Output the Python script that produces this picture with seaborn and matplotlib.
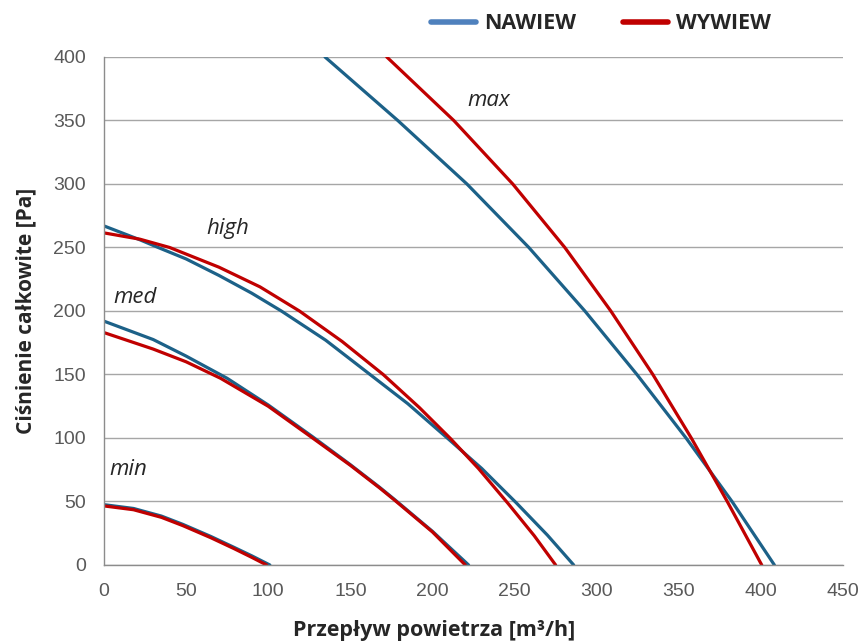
import numpy as np
import pandas as pd
import matplotlib
matplotlib.use("Agg")
import matplotlib.pyplot as plt
from matplotlib.lines import Line2D
import seaborn as sns

# curves: flow [m3/h] -> total pressure [Pa]
naw_min_x = [0, 18, 35, 48, 65, 79, 90, 101]
naw_min_y = [47.5, 44.5, 38.5, 32, 22.5, 14, 7.2, 0]
wyw_min_x = [0, 18, 35, 48, 65, 79, 90, 99]
wyw_min_y = [46.5, 43.5, 37.5, 31, 21.5, 13, 6, 0]

naw_med_x = [0, 30, 50, 75, 100, 127, 150, 168, 177, 200, 222]
naw_med_y = [192, 177.5, 164.5, 147, 126, 101, 79, 61, 51.5, 26.5, 0]
wyw_med_x = [0, 30, 50, 71, 100, 127, 150, 168, 177, 200, 220]
wyw_med_y = [183, 170, 160, 147, 125, 100, 78.5, 60.5, 51, 26, 0]

naw_high_x = [0, 22, 33, 50, 70, 90, 108, 135, 160, 185, 209, 230, 251, 270, 286]
naw_high_y = [267, 256, 250, 241, 228, 214, 200, 177, 152, 127, 100, 76, 49, 23.5, 0]
wyw_high_x = [0, 22, 40, 70, 95, 119, 145, 170, 192, 211, 228, 246, 262, 275]
wyw_high_y = [261.5, 256.5, 250, 234.5, 219, 200, 176, 150, 124, 99.5, 76, 48.5, 23, 0]

naw_max_x = [134.6, 178.9, 221.0, 258.7, 292.8, 324.5, 354.4, 382.4, 408.2]
naw_max_y = [400, 350, 300, 250, 200, 150, 100, 50, 0]
wyw_max_x = [172.2, 213.0, 248.9, 280.6, 308.6, 334.2, 357.6, 379.5, 400.5]
wyw_max_y = [400, 350, 300, 250, 200, 150, 100, 50, 0]

series = [
    ("NAWIEW", "min", naw_min_x, naw_min_y),
    ("WYWIEW", "min", wyw_min_x, wyw_min_y),
    ("NAWIEW", "med", naw_med_x, naw_med_y),
    ("WYWIEW", "med", wyw_med_x, wyw_med_y),
    ("NAWIEW", "high", naw_high_x, naw_high_y),
    ("WYWIEW", "high", wyw_high_x, wyw_high_y),
    ("NAWIEW", "max", naw_max_x, naw_max_y),
    ("WYWIEW", "max", wyw_max_x, wyw_max_y),
]
rows = []
for side, speed, xs, ys in series:
    for i, (a, b) in enumerate(zip(xs, ys)):
        rows.append({"side": side, "speed": speed, "curve": side + speed,
                     "order": i, "flow": a, "pressure": b})
df = pd.DataFrame(rows)

labels = ["max", "high", "med", "min"]
label_x = [221, 62.5, 5.5, 3.5]
label_y = [366, 265, 211, 75]

sns.set_style("white")
plt.rcParams["font.family"] = ["Open Sans", "DejaVu Sans"]

fig = plt.figure(figsize=(8.62, 6.44), dpi=100)
ax = fig.add_axes([0.1206, 0.1227, 0.8574, 0.7888])

line_colors = {"NAWIEW": "#1c6188", "WYWIEW": "#c00000"}
sns.lineplot(data=df, x="flow", y="pressure", hue="side", units="curve",
             estimator=None, sort=False, palette=line_colors, linewidth=2.3,
             legend=False, ax=ax)

ax.set_xlim(0, 450)
ax.set_ylim(0, 400)
ax.set_xticks(np.arange(0, 451, 50))
ax.set_yticks(np.arange(0, 401, 50))
ax.grid(axis="y", color="#a6a6a6", linewidth=1)
ax.grid(axis="x", visible=False)
for s in ["top", "right"]:
    ax.spines[s].set_visible(False)
for s in ["left", "bottom"]:
    ax.spines[s].set_color("#8c8c8c")
    ax.spines[s].set_linewidth(1)
ax.tick_params(length=0, pad=13, labelsize=14, colors="#595959")
for t in ax.get_xticklabels() + ax.get_yticklabels():
    t.set_family(["Liberation Sans", "DejaVu Sans"])

ax.set_xlabel("Przepływ powietrza [m³/h]", fontsize=15.5, fontweight="bold",
              color="#262626")
ax.xaxis.set_label_coords(0.447, -0.108)
ax.set_ylabel("Ciśnienie całkowite [Pa]", fontsize=15, fontweight="bold",
              color="#262626", labelpad=12)

for lab, lx, ly in zip(labels, label_x, label_y):
    ax.text(lx, ly, lab, fontsize=16, style="italic", color="#262626",
            ha="left", va="center")

handles = [Line2D([], [], color="#4f81bd", linewidth=4, solid_capstyle="round"),
           Line2D([], [], color="#c00000", linewidth=4, solid_capstyle="round")]
fig.legend(handles, ["NAWIEW", "WYWIEW"], loc="center", bbox_to_anchor=(0.697, 0.963),
           ncol=2, frameon=False, handlelength=2.1, handletextpad=0.37,
           columnspacing=2.2, prop={"family": ["Open Sans", "DejaVu Sans"],
                                    "weight": "bold", "size": 15.5})

fig.savefig("out.png", dpi=100)
